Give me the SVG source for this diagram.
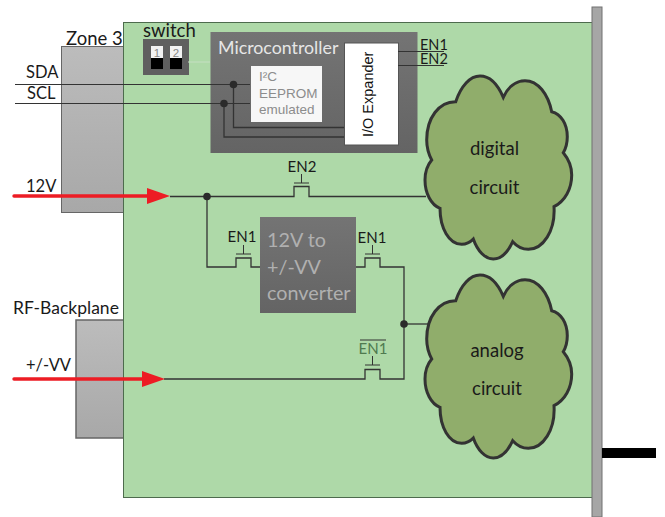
<svg xmlns="http://www.w3.org/2000/svg" xmlns:xlink="http://www.w3.org/1999/xlink" width="665" height="517" viewBox="0 0 665 517">
<style>
text{font-family:"Lato","Open Sans","Liberation Sans",sans-serif;fill:#1a1a1a}
.w{fill:none;stroke:#333;stroke-width:1.3}
.s{fill:none;stroke:#333;stroke-width:1}
.d{fill:#2b2b2b}
.cl{fill:#90ad6b;stroke:#333;stroke-width:3;stroke-linejoin:miter}
.r{stroke:#ed1c24;stroke-width:3.4;stroke-linecap:round;fill:none}
.ra{fill:#ed1c24}
.en{font-size:15px}
.lbl{font-size:16.500px}
.big{font-size:18.500px}
.cir{font-size:18.500px}
.cv{font-size:19.800px;fill:#b0b0b0}
.ee{font-size:13.500px;fill:#8c8c8c;font-family:"Liberation Sans",sans-serif}
</style>
<defs>
<linearGradient id="g" x1="0" y1="0" x2="0" y2="1"><stop offset="0" stop-color="#bcbcbc"/><stop offset="1" stop-color="#a8a8a8"/></linearGradient>
<linearGradient id="k" x1="0" y1="0" x2="0" y2="1"><stop offset="0" stop-color="#747474"/><stop offset="1" stop-color="#646464"/></linearGradient>
<path id="cloud" d="M455.700 101.700C461 86 470 76 480 76C490 76 498 85 503.300 97.300C508 87 516 80.700 525 80.700C538 80.700 548 94 551.700 111.700C561 114 567.300 124 567.300 136.700C567.300 143 566 148 563.300 152.700C568.500 159 571.700 167 571.700 175C571.700 189 565 201 554 206.700C555.500 231 543 249.300 528.300 249.300C522 249.300 517 246.500 512.700 241.700C508 252 501 259 493.300 259C485 259 477.500 251 473.300 239C469.500 243 466 244.300 461.700 244.300C449 244.300 440 228 440 208.300C431 205 425 193 425 180C425 172 427.500 165 431.700 160C428 153 426.700 147 426.700 140C426.700 118 439 101.500 455.700 101.700Z"/>
</defs>

<g id="zone3-connector"><rect x="61.500" y="46.500" width="62" height="166" fill="url(#g)" stroke="#666" stroke-width="1"/></g>
<g id="rf-connector"><rect x="76" y="320" width="48" height="118" fill="url(#g)" stroke="#666" stroke-width="1.500"/></g>
<g id="board"><rect x="123.500" y="22.500" width="469" height="475" fill="#aed9a8" stroke="#4d6b4d" stroke-width="1"/></g>
<g id="front-panel"><rect x="592" y="7" width="10" height="510" fill="#a6a6a6" stroke="#707070" stroke-width="1"/></g>
<g id="panel-handle"><rect x="602" y="448" width="54" height="10" fill="#000"/></g>

<text x="66" y="45" class="big">Zone 3</text>
<text x="26" y="78" class="lbl" font-size="16">SDA</text>
<text x="27" y="99" class="lbl">SCL</text>
<text x="26" y="192" class="lbl">12V</text>
<text x="13" y="314" style="font-size:17.500px">RF-Backplane</text>
<text x="26" y="371" class="lbl">+/-VV</text>

<g id="switch">
<text x="143" y="37" class="big">switch</text>
<rect x="143" y="39" width="46" height="36" fill="#5f5f5f"/>
<rect x="151" y="46" width="12" height="23" fill="#f2f2f2"/><rect x="151" y="58" width="12" height="11" fill="#000"/>
<rect x="170" y="46" width="12" height="23" fill="#f2f2f2"/><rect x="170" y="58" width="12" height="11" fill="#000"/>
<text x="157" y="57" font-size="11.500" text-anchor="middle" style="fill:#888;font-family:'Liberation Sans',sans-serif">1</text>
<text x="176" y="57" font-size="11.500" text-anchor="middle" style="fill:#888;font-family:'Liberation Sans',sans-serif">2</text>
</g>

<g id="microcontroller">
<rect x="210.500" y="32" width="207" height="121" fill="url(#k)"/>
<text x="218" y="54" font-size="17.800" style="fill:#e6e6e6">Microcontroller</text>
</g>
<g id="eeprom">
<rect x="251" y="66" width="71" height="56" fill="#f7f7f7"/>
<text x="259" y="81" class="ee">I²C</text>
<text x="259" y="98" class="ee">EEPROM</text>
<text x="259" y="114" class="ee">emulated</text>
</g>
<g id="io-expander">
<rect x="344.500" y="43" width="54" height="102" fill="#fff" stroke="#555" stroke-width="1"/>
<text transform="translate(373 137) rotate(-90)" font-size="14.500" style="fill:#111;font-family:'Liberation Sans',sans-serif">I/O Expander</text>
</g>

<g id="digital-circuit"><use xlink:href="#cloud" href="#cloud" class="cl"/>
<text x="494.500" y="155" class="cir" text-anchor="middle">digital</text>
<text x="494.500" y="194" class="cir" text-anchor="middle">circuit</text></g>
<g id="analog-circuit"><use xlink:href="#cloud" href="#cloud" class="cl" transform="translate(0 199)"/>
<text x="497" y="357" class="cir" text-anchor="middle">analog</text>
<text x="497" y="395" class="cir" text-anchor="middle">circuit</text></g>

<g id="converter">
<rect x="260" y="217" width="96" height="96" fill="url(#k)"/>
<text x="267" y="247" class="cv">12V to</text>
<text x="267" y="274" class="cv">+/-VV</text>
<text x="267" y="300" class="cv">converter</text>
</g>

<g id="connectors">
<path class="s" d="M15 84.500H250M15 103.500H250M398 51.500H444M398 65.500H444"/>
<path class="w" d="M233.500 84.500V127.500H344M224 103.500V137H344"/>
<path d="M188 62H210" stroke="#c5dfc2" stroke-width="1" fill="none"/>
<path class="w" d="M170 196.500H294V186.500H309V196.500H426"/>
<path class="s" d="M294 183H309M301.500 183V174"/>
<path class="w" d="M207 196.500V267H236V258H251V267H260"/>
<path class="s" d="M236 254H251M243.500 254V245"/>
<path class="w" d="M356 267H365V258H380V267H404V379H380V369.500H365V379H164"/>
<path class="s" d="M365 254H380M372.500 254V245M365 365H380M372.500 365V356"/>
<path class="w" d="M404 324H430"/>
<circle class="d" cx="207" cy="196.500" r="3.800"/>
<circle class="d" cx="233.500" cy="84.500" r="3.800"/>
<circle class="d" cx="224" cy="103.500" r="3.800"/>
<circle class="d" cx="404" cy="324" r="3.800"/>
<path class="r" d="M14 196H150"/>
<polygon class="ra" points="147,188 170,196 147,204"/>
<path class="r" d="M14 379H145"/>
<polygon class="ra" points="142,371 165,379 142,387"/>
</g>

<text x="420" y="50" class="en" style="font-size:14.500px">EN1</text>
<text x="420" y="64" class="en" style="font-size:14.500px">EN2</text>
<text x="302" y="172" class="en" text-anchor="middle">EN2</text>
<text x="242" y="242" class="en" text-anchor="middle">EN1</text>
<text x="372" y="243" class="en" text-anchor="middle">EN1</text>
<text x="373" y="354" class="en" text-anchor="middle" style="fill:#4f7a4f">EN1</text>
<path d="M360 340H386" stroke="#333" stroke-width="1" fill="none"/>
</svg>
